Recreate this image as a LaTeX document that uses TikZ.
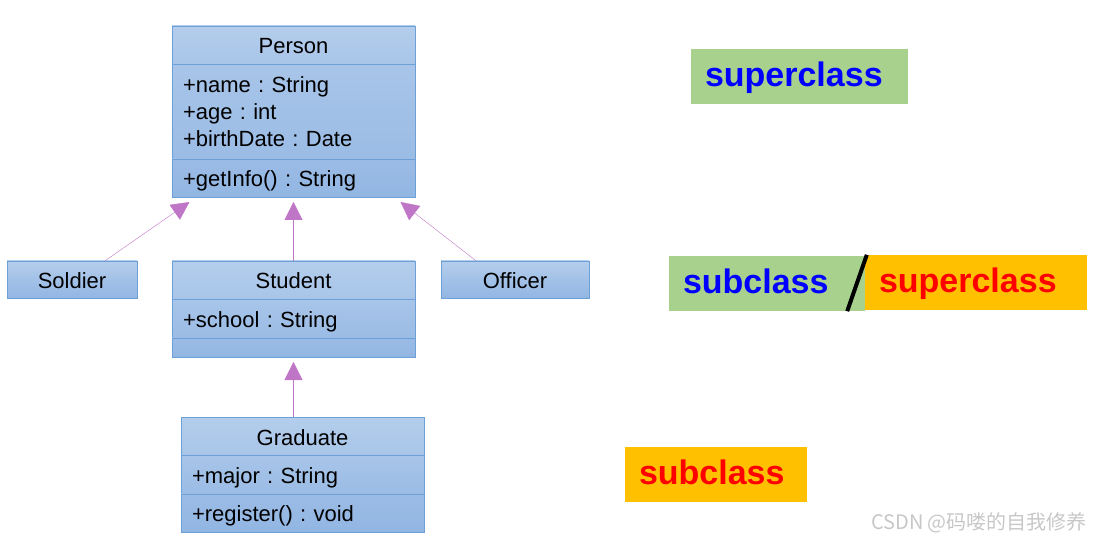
\documentclass[tikz,border=0pt]{standalone}
\usepackage{fontspec}
\setmainfont{Liberation Sans}
\newfontfamily\cjk{Noto Sans CJK SC}
\usetikzlibrary{shapes, arrows.meta, positioning}
\frenchspacing
\definecolor{umltop}{RGB}{180,205,236}
\definecolor{umlbot}{RGB}{146,182,227}
\definecolor{umlline}{RGB}{110,160,216}
\definecolor{arrowpurple}{RGB}{192,118,198}
\definecolor{tagGreen}{RGB}{169,209,142}
\definecolor{tagOrange}{RGB}{255,192,0}
\tikzstyle{chead} = [rectangle, draw=umlline, top color=umltop, bottom color=umltop!65!umlbot, minimum width=243pt, minimum height=38pt, text width=221pt, text height=21pt, text depth=3pt, inner xsep=11pt, inner ysep=0pt, align=center]
\tikzstyle{cattr} = [rectangle, draw=umlline, top color=umltop!65!umlbot, bottom color=umltop!25!umlbot, minimum width=243pt, minimum height=38pt, text width=221pt, text height=21pt, text depth=3pt, inner xsep=11pt, inner ysep=0pt, align=left]
\tikzstyle{cops} = [rectangle, draw=umlline, top color=umltop!25!umlbot, bottom color=umlbot, minimum width=243pt, minimum height=38pt, text width=221pt, text height=21pt, text depth=3pt, inner xsep=11pt, inner ysep=0pt, align=left]
\tikzstyle{cbox} = [rectangle, draw=umlline, top color=umltop, bottom color=umlbot, minimum height=37pt, text height=21pt, text depth=3pt, inner sep=0pt, text centered]
\tikzstyle{tag} = [rectangle, text height=38pt, text depth=17pt, inner xsep=14pt, inner ysep=0pt, align=left, font=\fontsize{34}{40}\selectfont\bfseries]
\tikzstyle{inherits} = [draw=arrowpurple, -{Triangle[length=18pt,width=18pt]}]

\begin{document}
\begin{tikzpicture}[x=1pt, y=-1pt, font=\fontsize{22}{27}\selectfont]
    \useasboundingbox (0,0) rectangle (1093,540);

    % class boxes
    \node[chead](person) at (293.5,45) {Person};
    \node[cattr, minimum height=94pt, text height=, text depth=, below=0pt of person](personattr) {+name : String\\+age : int\\+birthDate : Date};
    \node[cops, below=0pt of personattr](personops) {+getInfo() : String};

    \node[cbox, minimum width=130pt](soldier) at (72,279.5) {Soldier};
    \node[cbox, minimum width=148pt](officer) at (515,279.5) {Officer};

    \node[chead](student) at (293.5,280) {Student};
    \node[cattr, below=0pt of student](studentattr) {+school : String};
    \node[cops, minimum height=19pt, text height=, text depth=, below=0pt of studentattr](studentops) {};

    \node[chead](graduate) at (302.5,436) {Graduate};
    \node[cattr, below=0pt of graduate](graduateattr) {+major : String};
    \node[cops, below=0pt of graduateattr](graduateops) {+register() : void};

    % tags
    \node[tag, fill=tagGreen, text=blue, text width=189pt](topsuper) at (799.5,76.5) {superclass};
    \node[tag, fill=tagGreen, text=blue, text width=168pt](midsub) at (767,283.5) {subclass};
    \node[tag, fill=tagOrange, text=red, text width=194pt](midsuper) at (976,282.5) {superclass};
    \node[tag, fill=tagOrange, text=red, text width=154pt](botsub) at (716,474) {subclass};
    \draw[line width=4pt] ([xshift=-18pt]midsub.south east) -- ([xshift=2pt]midsuper.north west);

    \path[inherits] ([xshift=33pt]soldier.north) -- ([xshift=-104pt,yshift=-5pt]personops.south);
    \path[inherits] (student.north) -- ([yshift=-5pt]personops.south);
    \path[inherits] ([xshift=-39pt]officer.north) -- ([xshift=107pt,yshift=-5pt]personops.south);
    \path[inherits] ([xshift=-9pt]graduate.north) -- ([yshift=-5pt]studentops.south);

    \node[font=\cjk\fontsize{20}{24}\selectfont, text=black!22](mark) at (979,523) {CSDN @码喽的自我修养};
\end{tikzpicture}
\end{document}
